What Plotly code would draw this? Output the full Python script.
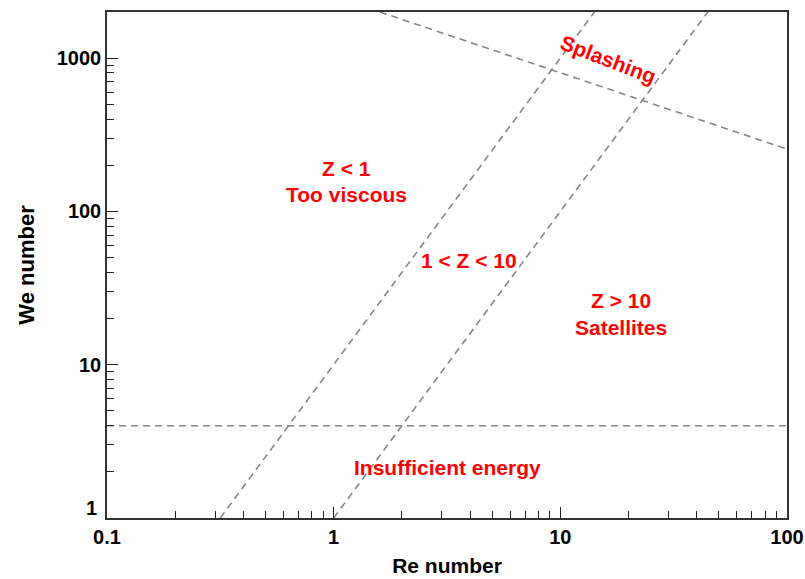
import math
import plotly.graph_objects as go

# Boundary lines (Re, We) endpoints
z1_re = [0.316, 14.14]
z1_we = [1, 2000]
z10_re = [1.0, 44.7]
z10_we = [1, 2000]
splash_re = [1.6, 100]
splash_we = [2000, 255]
energy_re = [0.1, 100]
energy_we = [4, 4]

labels = ["Z < 1", "Too viscous", "1 < Z < 10", "Z > 10", "Satellites", "Insufficient energy", "Splashing"]
label_re = [1.14, 1.14, 3.96, 18.6, 18.6, 3.19, 16.3]
label_we = [191, 129, 47.7, 26.1, 17.6, 2.13, 978]
label_angle = [0, 0, 0, 0, 0, 0, 21]

x_ticks = [0.1, 1, 10, 100]
y_ticks = [1, 10, 100, 1000]
minor_mult = [2, 3, 4, 5, 6, 7, 8, 9]
x_minor = [m * d for d in [0.1, 1, 10] for m in minor_mult]
y_minor = [m * d for d in [1, 10, 100, 1000] for m in minor_mult if m * d <= 2000]

FONT = "Liberation Sans, Arial, sans-serif"
line_style = dict(color="#858585", width=1.6, dash="7px,5px")

fig = go.Figure()
for xs, ys in [(z1_re, z1_we), (z10_re, z10_we), (splash_re, splash_we), (energy_re, energy_we)]:
    fig.add_trace(go.Scatter(x=xs, y=ys, mode="lines", line=line_style,
                             showlegend=False, hoverinfo="skip", cliponaxis=True))

for t, x, y, a in zip(labels, label_re, label_we, label_angle):
    fig.add_annotation(x=math.log10(x), y=math.log10(y), xref="x", yref="y", text=t,
                       showarrow=False, textangle=a,
                       font=dict(family=FONT, size=21, color="#ff0000", weight="bold"))

tick_font = dict(family=FONT, size=20, color="#000000", weight="bold")

# the lowest y tick label sits slightly above the corner in the reference
y_ticktext = ["" if v == y_ticks[0] else str(v) for v in y_ticks]
fig.add_annotation(x=0, y=math.log10(y_ticks[0]), xref="paper", yref="y",
                   text=str(y_ticks[0]), showarrow=False, xanchor="right", yanchor="bottom",
                   xshift=-8, yshift=-3, font=tick_font)

axis_common = dict(
    type="log", showgrid=False, zeroline=False,
    showline=True, linecolor="#333333", linewidth=1.5, mirror=True,
    ticks="inside", ticklen=11, tickwidth=1.3, tickcolor="#222222",
    tickfont=tick_font,
    automargin=False,
)

fig.update_xaxes(**axis_common, range=[-1, 2], tickvals=x_ticks,
                 ticktext=[str(v) for v in x_ticks],
                 minor=dict(ticks="inside", ticklen=7, tickwidth=1.1, tickcolor="#222222",
                            showgrid=False, tickvals=x_minor),
                 title=dict(text="Re number", standoff=12,
                            font=dict(family=FONT, size=21, color="#000000", weight="bold")))
fig.update_yaxes(**axis_common, range=[0, 3.301], tickvals=y_ticks,
                 ticktext=y_ticktext,
                 minor=dict(ticks="inside", ticklen=7, tickwidth=1.1, tickcolor="#222222",
                            showgrid=False, tickvals=y_minor),
                 title=dict(text="We number", standoff=16,
                            font=dict(family=FONT, size=22, color="#000000", weight="bold")))

fig.update_layout(width=805, height=579, paper_bgcolor="white", plot_bgcolor="white",
                  margin=dict(l=107, r=18, t=12, b=61), showlegend=False)

fig.write_html("out.html", config={"displayModeBar": False},
               post_script="document.body.style.margin='0';")
